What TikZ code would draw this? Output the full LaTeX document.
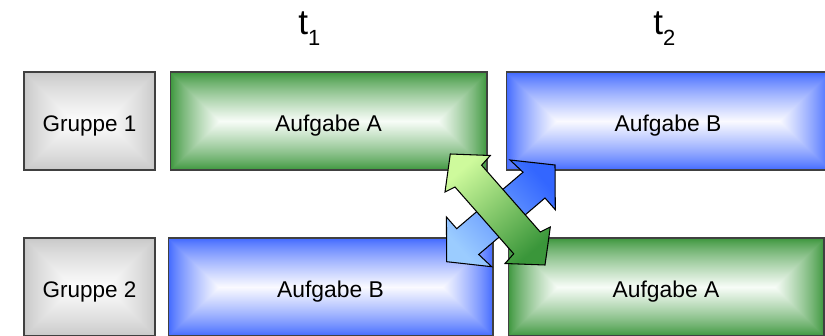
\documentclass[tikz,border=0pt]{standalone}
\usepackage{fontspec}
\setmainfont{Liberation Sans}

% rectangular "from centre" fill: edge colour r0,g0,b0 fading to white
% #1 name, #2 aspect ratio, then r0, 1-r0, g0, 1-g0, b0, 1-b0
\newcommand\boxshade[8]{%
  \pgfdeclarefunctionalshading{#1}{\pgfpoint{-50bp}{-50bp}}{\pgfpoint{50bp}{50bp}}{}{
    abs 25 exch sub 25 div exch abs 25 exch sub 25 div #2 mul
    2 copy gt {exch} if pop
    dup 0 lt {pop 0} if dup 1 gt {pop 1} if 0.8 exp
    dup #4 mul #3 add exch dup #6 mul #5 add exch #8 mul #7 add}}
\boxshade{greenbox}{3.2}{0.22}{0.75}{0.58}{0.41}{0.22}{0.75}
\boxshade{bluebox}{3.2}{0.24}{0.74}{0.40}{0.58}{1.0}{0}
\boxshade{graybox}{1.34}{0.78}{0.21}{0.78}{0.21}{0.78}{0.21}

\definecolor{arrowgreenlight}{RGB}{206,250,156}
\definecolor{arrowgreendark}{RGB}{58,150,58}
\definecolor{arrowbluelight}{RGB}{155,204,255}
\definecolor{arrowbluedark}{RGB}{51,102,255}

\tikzset{
  groupbox/.style={draw=black!75, line width=0.6pt, inner sep=0pt,
    minimum width=2.62cm, minimum height=1.96cm, shade, shading=graybox,
    text height=12.4pt, text depth=0pt, font=\fontsize{12.8}{15}\selectfont},
  taskbox/.style={draw=black!75, line width=0.6pt, inner sep=0pt,
    minimum height=1.96cm, shade, text height=12.4pt, text depth=0pt,
    font=\fontsize{13}{15}\selectfont},
  timelabel/.style={anchor=base west, inner sep=0pt,
    font=\fontsize{20}{24}\selectfont},
  swaparrow/.style={draw=black, line width=0.6pt, line join=miter},
}

\begin{document}
\begin{tikzpicture}[x=0.02cm, y=0.02cm]
  \useasboundingbox (0,0) rectangle (825,335);
  \clip (0,0) rectangle (825,335);

  % time slots
  \node[timelabel] (t1) at (298,300) {t\raisebox{-6pt}{\fontsize{12.5}{14}\selectfont 1}};
  \node[timelabel] (t2) at (653,300) {t\raisebox{-6pt}{\fontsize{12.5}{14}\selectfont 2}};

  % first group
  \node[groupbox] (g1) at (89.5,214) {Gruppe 1};
  \node[taskbox, shading=greenbox, minimum width=6.34cm] (a1) at (328.5,214) {Aufgabe A};
  \node[taskbox, shading=bluebox, minimum width=6.48cm] (b2) at (668,214) {Aufgabe B};

  % second group
  \node[groupbox] (g2) at (89.5,48) {Gruppe 2};
  \node[taskbox, shading=bluebox, minimum width=6.5cm] (b1) at (330.5,48) {Aufgabe B};
  \node[taskbox, shading=greenbox, minimum width=6.32cm] (a2) at (666,48) {Aufgabe A};

  % swap arrows, blue one behind
  \shade[swaparrow, top color=arrowbluedark, bottom color=arrowbluelight, shading angle=-48]
    (555,170) -- (510,175) -- (523,162.8) -- (456.7,106.3) -- (446.4,118)
    -- (446.7,73.3) -- (491.7,68.3) -- (478.7,80.5) -- (545,137) -- (555.3,125.3) -- cycle;
  \shade[swaparrow, top color=arrowgreenlight, bottom color=arrowgreendark, shading angle=41]
    (450.3,181) -- (490.3,179.5) -- (481.6,169.8) -- (540.3,103) -- (550.3,108)
    -- (545,70) -- (505,71.5) -- (513.7,81.2) -- (455,148) -- (445,143) -- cycle;
\end{tikzpicture}
\end{document}
